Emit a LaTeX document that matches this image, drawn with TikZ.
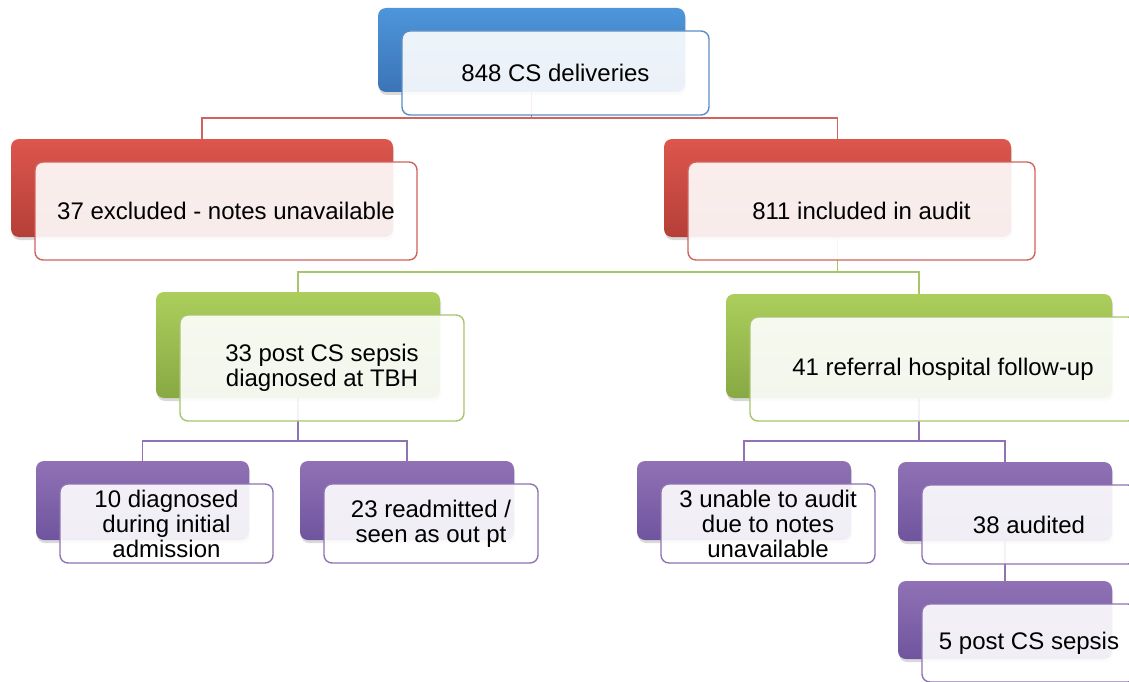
\documentclass[tikz,border=0pt]{standalone}
\usepackage{fontspec}
\setmainfont{Liberation Sans}
\usetikzlibrary{shadows}
\definecolor{bluetop}{HTML}{4E95DA}
\definecolor{bluebot}{HTML}{3B74B6}
\definecolor{blueline}{HTML}{5A8DC8}
\definecolor{redtop}{HTML}{DC564C}
\definecolor{redbot}{HTML}{B53F38}
\definecolor{redline}{HTML}{D2625C}
\definecolor{greentop}{HTML}{ACCE5C}
\definecolor{greenbot}{HTML}{88A943}
\definecolor{greenline}{HTML}{A7C56B}
\definecolor{purpletop}{HTML}{9071B5}
\definecolor{purplebot}{HTML}{6F559E}
\definecolor{purpleline}{HTML}{8F73B2}
\pgfdeclarelayer{bg}
\pgfsetlayers{bg,main}
\tikzset{
  backbox/.style={rounded corners=8pt, inner sep=0pt, outer sep=0pt, anchor=north west,
    drop shadow={shadow xshift=1pt, shadow yshift=-3pt, opacity=0.25, fill=black!60}},
  frontbox/.style={rounded corners=8pt, inner sep=0pt, outer sep=0pt, anchor=north west,
    fill=white, fill opacity=0.9, text opacity=1, line width=1.4pt, align=center,
    font=\fontsize{24}{25}\selectfont},
  conn/.style={line width=1.5pt}
}
\newcommand\twobox[7]{%
  \node[backbox, top color=#2top, bottom color=#2bot, minimum width=#5, minimum height=#6] (#1b) at (#3,#4) {};
  \node[frontbox, draw=#2line, minimum width=#5, minimum height=#6] (#1) at ([xshift=24pt,yshift=-23pt]#1b.north west) {#7};
}
\begin{document}
\begin{tikzpicture}[x=1pt,y=-1pt]
\useasboundingbox (0,0) rectangle (1129,682);
\clip (0,0) rectangle (1129,682);
\twobox{A}{blue}{378}{8}{307}{84}{848 CS deliveries}
\twobox{B}{red}{11}{139}{382}{98}{37 excluded - notes unavailable}
\twobox{C}{red}{664}{139}{347}{98}{811 included in audit}
\twobox{D}{green}{156}{292}{284}{106}{33 post CS sepsis\\diagnosed at TBH}
\twobox{E}{green}{726}{294}{386}{104}{41 referral hospital follow-up}
\twobox{F}{purple}{36}{461}{213}{79}{10 diagnosed\\during initial\\admission}
\twobox{G}{purple}{300}{461}{214}{79}{23 readmitted /\\seen as out pt}
\twobox{H}{purple}{637}{461}{214}{79}{3 unable to audit\\due to notes\\unavailable}
\twobox{I}{purple}{898}{462}{214}{79}{38 audited}
\twobox{J}{purple}{898}{581}{214}{78}{5 post CS sepsis}
\begin{pgfonlayer}{bg}
\path (Ab.south) ++(0,26) coordinate (jA);
\path (Cb.south) ++(0,35) coordinate (jC);
\path (Db.south) ++(0,43) coordinate (jD);
\path (Eb.south) ++(0,43) coordinate (jE);
\draw[conn, redline] (Ab.south) -- (jA) -| (Bb.north);
\draw[conn, redline] (jA) -| (Cb.north);
\draw[conn, greenline] (Cb.south) -- (jC) -| (Db.north);
\draw[conn, greenline] (jC) -| (Eb.north);
\draw[conn, purpleline] (Db.south) -- (jD) -| (Fb.north);
\draw[conn, purpleline] (jD) -| (Gb.north);
\draw[conn, purpleline] (Eb.south) -- (jE) -| (Hb.north);
\draw[conn, purpleline] (jE) -| (Ib.north);
\draw[conn, purpleline] (Ib.south) -- (Jb.north);
\end{pgfonlayer}
\end{tikzpicture}
\end{document}
